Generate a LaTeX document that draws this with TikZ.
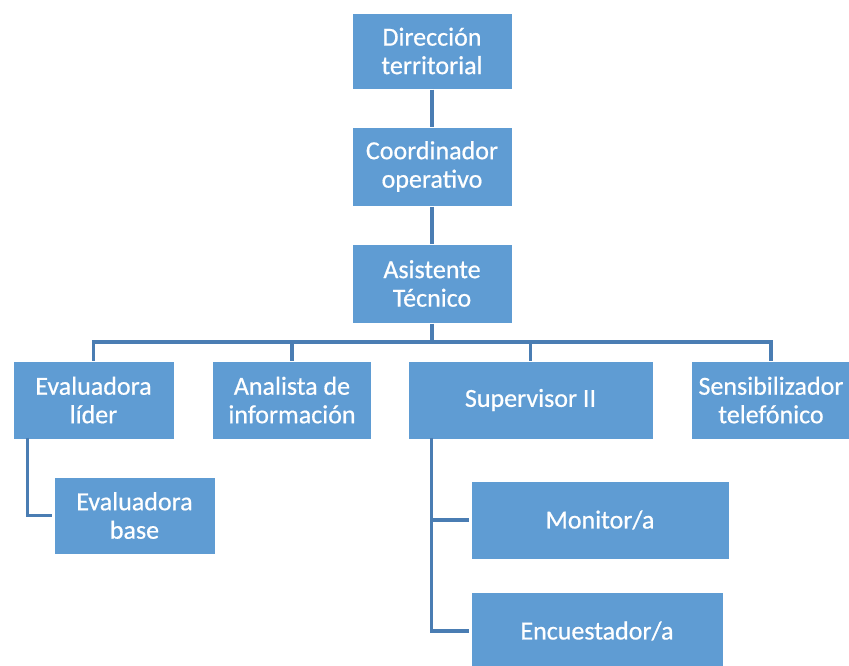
\documentclass[tikz,border=0pt]{standalone}
\usepackage{fontspec}
\setmainfont{Carlito}
\newfontfamily\boxfont{Carlito}[FakeBold=0.6]
\definecolor{boxblue}{HTML}{5F9CD3}
\definecolor{lineblue}{HTML}{4A7DB3}
\begin{document}
\begin{tikzpicture}[x=1pt,y=-1pt,
  box/.style={rectangle, fill=boxblue, draw=white, line width=1pt, inner sep=0pt,
    minimum height=78pt, text=white, align=center,
    font=\boxfont\fontsize{26}{28.5}\selectfont},
  conn/.style={draw=lineblue, line width=3.8pt}]
\useasboundingbox (0,0) rectangle (849,665);
\clip (0,0) rectangle (849,665);
\fill[white] (0,0) rectangle (849,665);
\coordinate (bus) at (432,342);
\node[box, minimum width=160pt, minimum height=76pt] (dir) at (432,51) {Dirección\\territorial};
\node[box, minimum width=160pt, minimum height=79pt] (coord) at (432,166.5) {Coordinador\\operativo};
\node[box, minimum width=160pt, minimum height=79pt] (asis) at (432,283.5) {Asistente\\Técnico};
\node[box, minimum width=161pt] (lider) at (93.5,400) {Evaluadora\\líder};
\node[box, minimum width=159pt] (anal) at (292,400) {Analista de\\información};
\node[box, minimum width=245pt] (sup) at (530.5,400) {Supervisor II};
\node[box, minimum width=160pt] (sens) at (771,400) {Sensibilizador\\telefónico};
\node[box, minimum width=161pt, minimum height=77pt] (base) at (134.5,515.5) {Evaluadora\\base};
\node[box, minimum width=258pt] (mon) at (600,520) {Monitor/a};
\node[box, minimum width=252pt] (enc) at (597,631) {Encuestador/a};
\draw[conn] (dir.south) -- (coord.north);
\draw[conn] (coord.south) -- (asis.north);
\draw[conn] (asis.south) -- (bus);
\draw[conn] (lider.north) |- (bus) -| (sens.north);
\draw[conn] (anal.north) -- (anal.north |- bus);
\draw[conn] (sup.north) -- (sup.north |- bus);
\draw[conn] ([xshift=15pt,yshift=2pt]lider.south west) |- ([xshift=-2pt]base.west);
\draw[conn] ([xshift=24pt,yshift=2pt]sup.south west) |- ([xshift=-2pt]enc.west);
\draw[conn] ([xshift=24pt]sup.south west |- mon.west) -- ([xshift=-2pt]mon.west);
\end{tikzpicture}
\end{document}
